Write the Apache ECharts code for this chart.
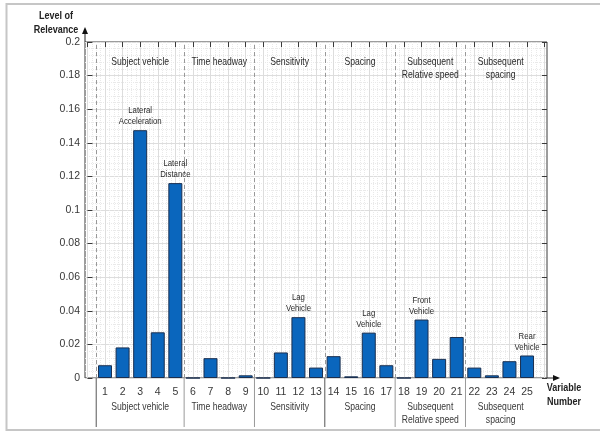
<!DOCTYPE html>
<html>
<head>
<meta charset="utf-8">
<script src="https://cdn.jsdelivr.net/npm/echarts@6/dist/echarts.min.js"></script>
<style>
  html, body { margin: 0; padding: 0; background: #fff; }
  #chart { width: 600px; height: 435px; }
</style>
</head>
<body>
<div id="chart"></div>
<script>
// Variable numbers and their level of relevance
const variableNumbers = [1, 2, 3, 4, 5, 6, 7, 8, 9, 10, 11, 12, 13, 14, 15, 16, 17, 18, 19, 20, 21, 22, 23, 24, 25];
const relevance = [0.0076, 0.0182, 0.1475, 0.0272, 0.116,
                   0, 0.0118, 0, 0.0016,
                   0, 0.0152, 0.0362, 0.0062,
                   0.013, 0.001, 0.027, 0.0076,
                   0, 0.0348, 0.0114, 0.0244,
                   0.0062, 0.0016, 0.01, 0.0134];

// Variable groups (first and last variable of each group)
const groupNames = ['Subject vehicle', 'Time headway', 'Sensitivity', 'Spacing',
                    'Subsequent\nRelative speed', 'Subsequent\nspacing'];
const groupFirst = [1, 6, 10, 14, 18, 22];
const groupLast = [5, 9, 13, 17, 21, 25];

// Notes written above particular bars
const barNotes = {
  3: 'Lateral\nAcceleration',
  5: 'Lateral\nDistance',
  12: 'Lag\nVehicle',
  16: 'Lag\nVehicle',
  19: 'Front\nVehicle',
  25: 'Rear\nVehicle'
};

const FONT = "'Liberation Sans', Arial, sans-serif";
const INK = '#2a2a2a';
const NARROW = 0.82;   // horizontal squeeze for the condensed captions

const separators = groupFirst.map(v => v - 0.5);

const chart = echarts.init(document.getElementById('chart'), null, { renderer: 'canvas' });

const option = {
  backgroundColor: '#fff',
  animation: false,
  grid: [
    // frame of the plot area
    { left: 85, top: 42, width: 462, height: 336, show: true,
      borderColor: '#3a3a3a', borderWidth: 1, backgroundColor: '#fff' },
    // data area, integer positions 0..26
    { left: 87.42, top: 42, width: 457.2, height: 336 }
  ],
  xAxis: [
    { gridIndex: 0, type: 'value', min: -0.14, max: 26.14, show: false },
    { gridIndex: 1, type: 'value', min: 0, max: 26, interval: 1, position: 'bottom',
      axisLine: { show: false }, axisTick: { show: false },
      axisLabel: {
        formatter: v => (variableNumbers.indexOf(v) >= 0 ? String(v) : ''),
        margin: 9, fontSize: 10.5, color: '#383838', fontFamily: FONT
      },
      splitLine: { show: true, lineStyle: { color: '#dddddd', width: 1 } },
      minorTick: { show: false, splitNumber: 4 },
      minorSplitLine: { show: true, lineStyle: { color: '#e9e9e9', type: 'dotted', width: 1 } }
    },
    { gridIndex: 1, type: 'value', min: 0, max: 26, interval: 1, position: 'top',
      axisLine: { show: false },
      axisTick: { show: true, inside: true, length: 5, lineStyle: { color: '#3a3a3a' } },
      axisLabel: { show: false }, splitLine: { show: false }
    }
  ],
  yAxis: [
    { gridIndex: 0, type: 'value', min: 0, max: 0.2, interval: 0.02, position: 'left',
      axisLine: { show: false },
      axisTick: { show: true, inside: true, length: 5, lineStyle: { color: '#3a3a3a' } },
      axisLabel: { margin: 5, fontSize: 10.5, color: '#383838', fontFamily: FONT },
      splitLine: { show: true, lineStyle: { color: '#dddddd', width: 1 } },
      minorTick: { show: false, splitNumber: 5 },
      minorSplitLine: { show: true, lineStyle: { color: '#e9e9e9', type: 'dotted', width: 1 } }
    },
    { gridIndex: 0, type: 'value', min: 0, max: 0.2, interval: 0.02, position: 'right',
      axisLine: { show: false },
      axisTick: { show: true, inside: true, length: 5, lineStyle: { color: '#3a3a3a' } },
      axisLabel: { show: false }, splitLine: { show: false }
    },
    { gridIndex: 1, type: 'value', min: 0, max: 0.2, show: false }
  ],
  series: [{
    type: 'bar',
    xAxisIndex: 1,
    yAxisIndex: 2,
    barWidth: 14,
    data: variableNumbers.map((n, i) => [n, relevance[i]]),
    itemStyle: { color: '#0a66bd', borderColor: '#1b2f4f', borderWidth: 1 },
    markLine: {
      silent: true,
      symbol: 'none',
      label: { show: false },
      lineStyle: { type: [4, 3], color: '#999', width: 1 },
      data: separators.map(x => ({ xAxis: x }))
    }
  }]
};

chart.setOption(option);

// Captions and decorations placed through the axes
function px(x) { return chart.convertToPixel({ xAxisIndex: 1 }, x); }
const frameLeft = chart.convertToPixel({ xAxisIndex: 0 }, -0.14);
const frameRight = chart.convertToPixel({ xAxisIndex: 0 }, 26.14);
const yZero = chart.convertToPixel({ yAxisIndex: 0 }, 0);
const yTop = chart.convertToPixel({ yAxisIndex: 0 }, 0.2);

// condensed text: the element is squeezed horizontally around its anchor
function txt(text, x, y, opts) {
  const valign = (opts && opts.verticalAlign) || 'top';
  return {
    type: 'text', silent: true, z: 100,
    x: x, y: y, scaleX: NARROW, scaleY: 1,
    style: Object.assign({
      text: text, x: 0, y: 0,
      align: 'center', textAlign: 'center',
      verticalAlign: valign, textVerticalAlign: valign,
      fontFamily: FONT, fontSize: 10.5, lineHeight: 12.5, fill: INK
    }, opts || {})
  };
}

const elements = [];

// outer border of the figure
elements.push({ type: 'rect', silent: true, z: 0,
  shape: { x: 6.5, y: 4, width: 600, height: 426 },
  style: { fill: null, stroke: '#c6c6c6', lineWidth: 2 } });

// y axis extension with arrow
elements.push({ type: 'line', silent: true, z: 100,
  shape: { x1: frameLeft, y1: yTop, x2: frameLeft, y2: yTop - 9 },
  style: { stroke: '#222', lineWidth: 1 } });
elements.push({ type: 'polygon', silent: true, z: 100,
  shape: { points: [[frameLeft - 3, yTop - 8], [frameLeft + 3, yTop - 8], [frameLeft, yTop - 15]] },
  style: { fill: '#111' } });

// x axis extension with arrow
elements.push({ type: 'line', silent: true, z: 100,
  shape: { x1: frameRight, y1: yZero, x2: frameRight + 7, y2: yZero },
  style: { stroke: '#222', lineWidth: 1 } });
elements.push({ type: 'polygon', silent: true, z: 100,
  shape: { points: [[frameRight + 6, yZero - 3], [frameRight + 6, yZero + 3], [frameRight + 13, yZero]] },
  style: { fill: '#111' } });

// group brackets below the axis
separators.forEach((s, i) => {
  const dark = (i === 0 || i === 3);
  elements.push({ type: 'line', silent: true, z: 90,
    shape: { x1: px(s), y1: yZero, x2: px(s), y2: yZero + 49 },
    style: { stroke: dark ? '#555' : '#9a9a9a', lineWidth: 1 } });
});

// group names inside the plot and below the numbers
groupNames.forEach((name, i) => {
  const cx = px((groupFirst[i] + groupLast[i]) / 2);
  elements.push(txt(name, cx, yTop + 14));
  elements.push(txt(name, cx, yZero + 23, { lineHeight: 13, fill: '#383838' }));
});

// notes above bars, anchored at each bar's top
Object.keys(barNotes).forEach(k => {
  const n = Number(k);
  const p = chart.convertToPixel({ xAxisIndex: 1, yAxisIndex: 2 }, [n, relevance[variableNumbers.indexOf(n)]]);
  elements.push(txt(barNotes[k], p[0], p[1] - 3,
    { fontSize: 9.5, lineHeight: 11, verticalAlign: 'bottom' }));
});

// axis titles
elements.push(txt('Level of\nRelevance', 56, 9,
  { fontSize: 11, fontWeight: 'bold', lineHeight: 14, fill: '#222' }));
elements.push(txt('Variable\nNumber', frameRight + 17, yZero + 3,
  { fontSize: 11, fontWeight: 'bold', lineHeight: 14, fill: '#222' }));

chart.setOption({ graphic: { elements: elements } });
</script>
</body>
</html>
